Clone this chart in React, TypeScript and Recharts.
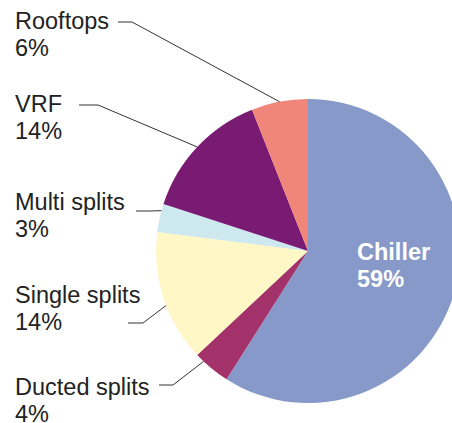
import { Cell, Pie, PieChart } from 'recharts';

const categories = ['Chiller', 'Ducted splits', 'Single splits', 'Multi splits', 'VRF', 'Rooftops'];
const shares = [59, 4, 14, 3, 14, 6];
const colors = ['#8799C8', '#A4326A', '#FFF7C6', '#CDE9EF', '#791B72', '#F0857A'];

const data = categories.map((name, i) => ({ name, value: shares[i] }));

const RAD = Math.PI / 180;
const FONT = '"Liberation Sans", Arial, sans-serif';
const FS = 23.5;

// where each outside label sits, and the elbow of its leader line
const labelLayout: Record<string, { x: number; y: number; line: [number, number][]; tweak: number }> = {
  Rooftops: { x: 15, y: 29, line: [[118, 22], [132, 22]], tweak: 0 },
  VRF: { x: 15, y: 112, line: [[79, 105], [98, 105]], tweak: 0 },
  'Multi splits': { x: 15, y: 210, line: [[136, 211], [150, 211]], tweak: -2.8 },
  'Single splits': { x: 15, y: 303, line: [[128, 323], [143, 323]], tweak: 3 },
  'Ducted splits': { x: 15, y: 395, line: [[159, 385], [173, 385]], tweak: -3.8 },
};

const renderLabel = (props: any) => {
  const { cx, cy, midAngle, outerRadius, name, value } = props;
  if (name === 'Chiller') {
    return (
      <text x={357} y={260} fill="#fff" fontFamily={FONT} fontSize={FS} fontWeight="bold">
        <tspan x={357}>{name}</tspan>
        <tspan x={357} dy={27}>{value}%</tspan>
      </text>
    );
  }
  const l = labelLayout[name];
  const a = (midAngle + l.tweak) * RAD;
  const ex = cx + outerRadius * Math.cos(a);
  const ey = cy - outerRadius * Math.sin(a);
  const pts = [...l.line, [ex, ey]].map((p) => p.join(',')).join(' ');
  return (
    <g>
      <polyline points={pts} fill="none" stroke="#333" strokeWidth={1} />
      <text x={l.x} y={l.y} fill="#222" fontFamily={FONT} fontSize={FS}>
        <tspan x={l.x}>{name}</tspan>
        <tspan x={l.x} dy={27}>{value}%</tspan>
      </text>
    </g>
  );
};

export default function App() {
  return (
    <div style={{ position: 'absolute', left: 0, top: 0, width: 452, height: 423, background: '#fff' }}>
      <PieChart width={452} height={423} margin={{ top: 0, right: 0, bottom: 0, left: 0 }}>
        <Pie
          data={data}
          dataKey="value"
          nameKey="name"
          cx={308}
          cy={251}
          outerRadius={152}
          startAngle={90}
          endAngle={-270}
          stroke="none"
          label={renderLabel}
          labelLine={false}
          isAnimationActive={false}
        >
          {data.map((d, i) => (
            <Cell key={d.name} fill={colors[i]} />
          ))}
        </Pie>
      </PieChart>
    </div>
  );
}
